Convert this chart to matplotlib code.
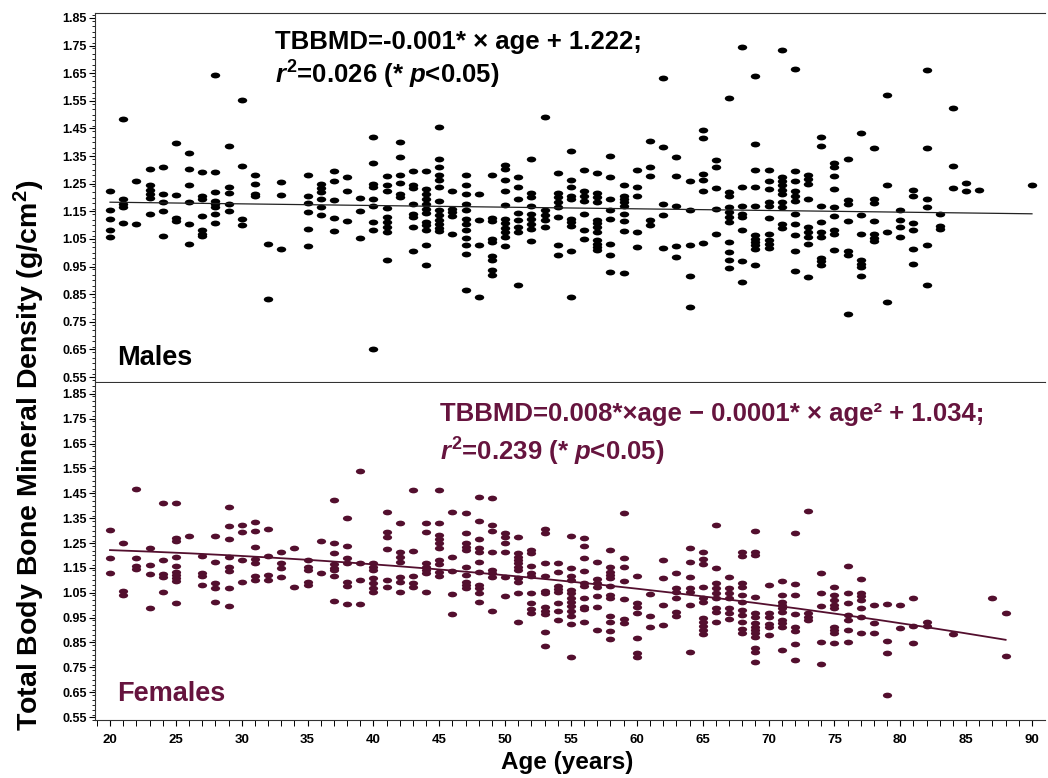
import matplotlib
matplotlib.use("Agg")
import matplotlib.pyplot as plt
from matplotlib.path import Path
from matplotlib.transforms import Affine2D
from matplotlib.ticker import MultipleLocator
import numpy as np

plt.rcParams['font.family'] = ['Liberation Sans', 'DejaVu Sans']
plt.rcParams['mathtext.fontset'] = 'custom'
plt.rcParams['mathtext.rm'] = 'Liberation Sans:bold'
plt.rcParams['mathtext.bf'] = 'Liberation Sans:bold'
plt.rcParams['mathtext.it'] = 'Liberation Sans:bold:italic'

# ---------------- data ----------------
male_ages = [20, 21, 22, 23, 24, 25, 26, 27, 28, 29, 30, 31, 32, 33, 35, 36, 37, 38, 39,
             40, 41, 42, 43, 44, 45, 46, 47, 48, 49, 50, 51, 52, 53, 54, 55, 56, 57, 58,
             59, 60, 61, 62, 63, 64, 65, 66, 67, 68, 69, 70, 71, 72, 73, 74, 75, 76, 77,
             78, 79, 80, 81, 82, 83, 84, 85, 86, 90]
male_bmd = [
    [1.225, 1.153, 1.121, 1.081, 1.057],
    [1.484, 1.195, 1.177, 1.165, 1.109],
    [1.259, 1.105],
    [1.304, 1.244, 1.228, 1.213, 1.198, 1.141],
    [1.310, 1.211, 1.183, 1.152, 1.059],
    [1.398, 1.209, 1.127, 1.115],
    [1.360, 1.303, 1.246, 1.183, 1.105, 1.030],
    [1.292, 1.207, 1.195, 1.134, 1.083, 1.069, 1.059],
    [1.643, 1.292, 1.220, 1.189, 1.177, 1.165, 1.141, 1.109],
    [1.388, 1.238, 1.216, 1.177, 1.150],
    [1.553, 1.315, 1.123, 1.099],
    [1.283, 1.250, 1.213, 1.204],
    [1.030, 0.834],
    [1.256, 1.210, 1.015],
    [1.283, 1.207, 1.181, 1.147, 1.087, 1.026],
    [1.250, 1.235, 1.221, 1.193, 1.165, 1.135],
    [1.295, 1.258, 1.192, 1.126, 1.079],
    [1.274, 1.223, 1.115],
    [1.198, 1.150, 1.053],
    [1.420, 1.324, 1.250, 1.238, 1.195, 1.168, 1.111, 1.083, 0.650],
    [1.277, 1.246, 1.225, 1.162, 1.129, 1.111, 1.093, 1.075, 0.973],
    [1.402, 1.348, 1.283, 1.252, 1.213, 1.201],
    [1.295, 1.247, 1.235, 1.177, 1.141, 1.129, 1.093, 1.006],
    [1.295, 1.232, 1.213, 1.195, 1.177, 1.159, 1.144, 1.111, 1.099, 1.081, 1.027, 0.957],
    [1.454, 1.340, 1.310, 1.280, 1.262, 1.238, 1.189, 1.153, 1.135, 1.120, 1.105, 1.091, 1.077],
    [1.225, 1.159, 1.147, 1.132, 1.069],
    [1.283, 1.244, 1.213, 1.177, 1.153, 1.121, 1.105, 1.081, 1.055, 1.027, 0.997, 0.865],
    [1.213, 1.120, 1.027, 0.840],
    [1.280, 1.127, 1.115, 1.051, 1.039, 0.987, 0.973, 0.937, 0.921],
    [1.316, 1.304, 1.264, 1.225, 1.174, 1.123, 1.108, 1.091, 1.075, 1.057, 1.023],
    [1.274, 1.238, 1.195, 1.144, 1.117, 1.093, 1.075, 0.883],
    [1.340, 1.216, 1.201, 1.171, 1.141, 1.123, 1.105, 1.087, 1.043],
    [1.493, 1.153, 1.135, 1.117, 1.093],
    [1.289, 1.217, 1.201, 1.183, 1.165, 1.129, 1.027, 0.991],
    [1.367, 1.262, 1.238, 1.207, 1.195, 1.123, 1.111, 1.096, 1.006, 0.840],
    [1.300, 1.225, 1.207, 1.189, 1.141, 1.083, 1.051],
    [1.288, 1.216, 1.201, 1.183, 1.120, 1.108, 1.093, 1.075, 1.047, 1.033, 1.021, 1.009],
    [1.349, 1.276, 1.195, 1.153, 1.123, 1.033, 0.991, 0.931],
    [1.247, 1.207, 1.195, 1.183, 1.171, 1.141, 1.115, 1.079, 0.928],
    [1.300, 1.238, 1.205, 1.074, 1.021],
    [1.406, 1.310, 1.277, 1.117, 1.099],
    [1.631, 1.382, 1.175, 1.138, 1.018],
    [1.348, 1.277, 1.171, 1.023, 0.985],
    [1.259, 1.153, 1.027, 0.915, 0.802],
    [1.444, 1.414, 1.286, 1.264, 1.225, 1.035],
    [1.334, 1.310, 1.235, 1.159, 1.069],
    [1.560, 1.219, 1.207, 1.165, 1.147, 1.129, 1.111, 1.039, 1.003, 0.975, 0.943],
    [1.745, 1.238, 1.171, 1.139, 1.129, 1.083, 0.970, 0.895],
    [1.641, 1.394, 1.300, 1.238, 1.168, 1.063, 1.051, 1.039, 1.027, 1.015, 0.955],
    [1.300, 1.259, 1.232, 1.183, 1.168, 1.127, 1.069, 1.047, 1.033, 1.018],
    [1.733, 1.274, 1.259, 1.244, 1.228, 1.213, 1.183, 1.165, 1.105, 1.091],
    [1.665, 1.295, 1.259, 1.225, 1.207, 1.189, 1.139, 1.105, 1.063, 1.006, 0.933],
    [1.283, 1.268, 1.250, 1.195, 1.093, 1.075, 1.057, 1.033, 0.913],
    [1.420, 1.388, 1.169, 1.111, 1.075, 1.057, 0.982, 0.969, 0.957],
    [1.325, 1.310, 1.277, 1.232, 1.165, 1.133, 1.081, 1.067, 1.009],
    [1.341, 1.192, 1.175, 1.115, 1.006, 0.991, 0.778],
    [1.432, 1.138, 1.069, 0.973, 0.961, 0.949, 0.916],
    [1.379, 1.195, 1.180, 1.115, 1.067, 1.055, 1.043],
    [1.571, 1.246, 1.076, 0.822],
    [1.153, 1.117, 1.093, 1.057],
    [1.228, 1.207, 1.109, 1.081, 1.015, 0.961],
    [1.661, 1.379, 1.195, 1.165, 1.029, 0.885],
    [1.141, 1.096, 1.085],
    [1.523, 1.313, 1.235],
    [1.252, 1.222],
    [1.228],
    [1.247],
]

female_ages = [20, 21, 22, 23, 24, 25, 26, 27, 28, 29, 30, 31, 32, 33, 34, 35, 36, 37, 38,
               39, 40, 41, 42, 43, 44, 45, 46, 47, 48, 49, 50, 51, 52, 53, 54, 55, 56, 57,
               58, 59, 60, 61, 62, 63, 64, 65, 66, 67, 68, 69, 70, 71, 72, 73, 74, 75, 76,
               77, 78, 79, 80, 81, 82, 84, 87, 88]
female_bmd = [
    [1.303, 1.191, 1.131],
    [1.249, 1.059, 1.041],
    [1.466, 1.191, 1.159, 1.144],
    [1.232, 1.162, 1.126, 0.988],
    [1.410, 1.182, 1.124, 1.115, 1.055],
    [1.413, 1.269, 1.260, 1.195, 1.159, 1.135, 1.122, 1.108, 1.099, 1.008],
    [1.280],
    [1.198, 1.131, 1.118, 1.081],
    [1.279, 1.175, 1.088, 1.068, 1.014],
    [1.397, 1.319, 1.267, 1.193, 1.155, 1.138, 1.071, 0.998],
    [1.323, 1.296, 1.182, 1.095],
    [1.336, 1.299, 1.234, 1.185, 1.171, 1.119, 1.102],
    [1.307, 1.198, 1.122, 1.102],
    [1.216, 1.171, 1.148, 1.112],
    [1.232, 1.075],
    [1.182, 1.155, 1.142, 1.095, 1.081],
    [1.258, 1.131],
    [1.423, 1.252, 1.211, 1.166, 1.148, 1.142, 1.118, 1.017],
    [1.350, 1.238, 1.189, 1.171, 1.095, 1.079, 1.005],
    [1.541, 1.171, 1.102, 1.005],
    [1.169, 1.155, 1.142, 1.108, 1.088, 1.071, 1.055],
    [1.376, 1.293, 1.276, 1.225, 1.102, 1.075],
    [1.330, 1.216, 1.195, 1.175, 1.112, 1.095, 1.052],
    [1.464, 1.220, 1.118, 1.088, 1.075],
    [1.332, 1.293, 1.169, 1.155, 1.142, 1.128, 1.052],
    [1.464, 1.330, 1.283, 1.265, 1.249, 1.229, 1.182, 1.166, 1.135, 1.119],
    [1.376, 1.195, 1.138, 1.045, 0.965],
    [1.372, 1.289, 1.249, 1.236, 1.222, 1.155, 1.122, 1.095, 1.081, 1.071],
    [1.437, 1.340, 1.265, 1.229, 1.212, 1.175, 1.135, 1.081, 1.068, 1.051, 1.012],
    [1.430, 1.323, 1.299, 1.212, 1.142, 1.128, 1.115, 0.978],
    [1.292, 1.276, 1.252, 1.212, 1.115, 1.038],
    [1.276, 1.209, 1.195, 1.182, 1.169, 1.155, 1.142, 1.108, 1.095, 1.051, 0.933],
    [1.222, 1.209, 1.158, 1.131, 1.119, 1.051, 1.010, 0.983, 0.970],
    [1.305, 1.289, 1.171, 1.119, 1.059, 1.051, 0.992, 0.978, 0.963, 0.891, 0.837],
    [1.169, 1.132, 1.079, 1.065, 1.052, 1.010, 0.978, 0.940],
    [1.279, 1.151, 1.118, 1.102, 1.061, 1.048, 1.030, 1.014, 0.997, 0.978, 0.957, 0.925, 0.793],
    [1.269, 1.238, 1.191, 1.139, 1.088, 1.079, 1.028, 0.994, 0.983, 0.934],
    [1.173, 1.104, 1.088, 1.075, 1.037, 0.992, 0.900],
    [1.222, 1.155, 1.135, 1.122, 1.108, 1.077, 1.041, 1.028, 0.957, 0.934, 0.898, 0.863],
    [1.372, 1.191, 1.155, 1.098, 1.024, 0.943, 0.927],
    [1.118, 1.010, 0.992, 0.967, 0.867, 0.806, 0.790],
    [1.045, 0.957, 0.914],
    [1.182, 1.108, 1.000, 0.920],
    [1.128, 1.068, 1.055, 1.028, 0.974, 0.958],
    [1.229, 1.175, 1.115, 1.068, 1.055, 1.001, 0.813],
    [1.216, 1.185, 1.166, 1.072, 1.028, 1.014, 0.947, 0.934, 0.916, 0.900, 0.884],
    [1.323, 1.148, 1.088, 1.068, 1.048, 1.028, 0.988, 0.974, 0.934],
    [1.115, 1.068, 1.048, 1.028, 0.988, 0.970, 0.945],
    [1.212, 1.198, 1.088, 1.075, 1.041, 1.014, 0.981, 0.961, 0.934, 0.903, 0.887],
    [1.299, 1.212, 1.202, 1.032, 0.967, 0.954, 0.927, 0.914, 0.900, 0.887, 0.873, 0.827, 0.813, 0.773],
    [1.081, 0.970, 0.954, 0.925, 0.911, 0.880],
    [1.098, 1.041, 1.014, 1.001, 0.988, 0.974, 0.940, 0.927, 0.914, 0.820],
    [1.292, 1.085, 1.041, 0.965, 0.914, 0.898, 0.844, 0.780],
    [1.380, 0.967, 0.954, 0.940],
    [1.131, 1.048, 0.997, 0.853, 0.764],
    [1.075, 1.041, 1.021, 1.001, 0.988, 0.914, 0.900, 0.887, 0.849],
    [1.158, 1.048, 1.010, 0.961, 0.940, 0.900, 0.853],
    [1.104, 1.051, 1.037, 1.021, 0.988, 0.954, 0.890],
    [1.001, 0.927, 0.887],
    [1.005, 0.856, 0.809, 0.639],
    [1.001, 0.910],
    [1.028, 0.916, 0.849],
    [0.934, 0.916],
    [0.884],
    [1.030],
    [0.967, 0.796],
]

# fitted lines as drawn (intercept, linear, quadratic) and age range
male_fit = [1.195, -0.0006, 0.0]
male_fit_range = [20, 90]
female_fit = [1.238, 0.0002, -0.000051]
female_fit_range = [20, 88]

y_ticks = [0.55, 0.65, 0.75, 0.85, 0.95, 1.05, 1.15, 1.25, 1.35, 1.45, 1.55, 1.65, 1.75, 1.85]
x_ticks = [20, 25, 30, 35, 40, 45, 50, 55, 60, 65, 70, 75, 80, 85, 90]

MALE_C = '#000000'
FEM_C = '#530f2e'
FEM_TXT = '#66143e'

# ---------------- figure ----------------
W, H = 1048, 778
fig = plt.figure(figsize=(W / 100, H / 100), dpi=100)

def px_ax(x0, y0, x1, y1):
    return fig.add_axes([x0 / W, 1 - y1 / H, (x1 - x0) / W, (y1 - y0) / H])

ax_m = px_ax(95, 13, 1045, 382)
ax_f = px_ax(95, 383, 1045, 720)

ell = Path.unit_circle().transformed(Affine2D().scale(1.0, 0.62))

def flat(ages, vals):
    xs, ys = [], []
    for a, v in zip(ages, vals):
        xs.extend([a] * len(v))
        ys.extend(v)
    return np.array(xs), np.array(ys)

def fit_curve(coef, rng):
    xx = np.linspace(rng[0], rng[1], 200)
    return xx, coef[0] + coef[1] * xx + coef[2] * xx ** 2

xm, ym = flat(male_ages, male_bmd)
xf, yf = flat(female_ages, female_bmd)

ax_m.scatter(xm, ym, marker=ell, s=46, color=MALE_C, linewidths=0, zorder=3)
lx, ly = fit_curve(male_fit, male_fit_range)
ax_m.plot(lx, ly, color='#222222', lw=0.9, zorder=4)

ax_f.scatter(xf, yf, marker=ell, s=44, color=FEM_C, linewidths=0, zorder=3)
lx, ly = fit_curve(female_fit, female_fit_range)
ax_f.plot(lx, ly, color=FEM_C, lw=1.3, zorder=4)

for ax, ylim in ((ax_m, (0.532, 1.868)), (ax_f, (0.538, 1.894))):
    ax.set_xlim(18.86, 90.99)
    ax.set_ylim(*ylim)
    ax.set_yticks(y_ticks)
    ax.set_yticklabels([f"{v:.2f}" for v in y_ticks])
    ax.yaxis.set_minor_locator(MultipleLocator(0.02))
    ax.tick_params(axis='y', which='major', length=4, width=0.8, pad=2,
                   labelsize=9, direction='out')
    ax.tick_params(axis='y', which='minor', length=2, width=0.6, direction='out')
    for lab in ax.get_yticklabels():
        lab.set_fontweight('bold')
    ax.spines['right'].set_visible(False)
    for side in ('left', 'top', 'bottom'):
        ax.spines[side].set_linewidth(0.8)
        ax.spines[side].set_color('#333333')

ax_m.set_xticks([])
ax_f.spines['top'].set_visible(False)
ax_f.set_xticks(x_ticks)
ax_f.set_xticklabels([str(v) for v in x_ticks])
ax_f.xaxis.set_minor_locator(MultipleLocator(1))
ax_f.tick_params(axis='x', which='major', length=4, width=0.8, pad=6, labelsize=9.5)
ax_f.tick_params(axis='x', which='minor', length=4, width=0.7)
for lab in ax_f.get_xticklabels():
    lab.set_fontweight('bold')

# annotations
EQ_FS = 18.5
fig.text(275 / W, 1 - 42 / H, "TBBMD=-0.001* \u00d7 age + 1.222;", fontsize=EQ_FS,
         fontweight='bold', ha='left', va='center', color='black')
fig.text(275 / W, 1 - 75 / H, r"$r^2$=0.026 (* $p$<0.05)", fontsize=EQ_FS,
         fontweight='bold', ha='left', va='center', color='black')
fig.text(440 / W, 1 - 414 / H, "TBBMD=0.008*\u00d7age \u2212 0.0001* \u00d7 age\u00b2 + 1.034;",
         fontsize=EQ_FS, fontweight='bold', ha='left', va='center', color=FEM_TXT)
fig.text(440 / W, 1 - 452 / H, r"$r^2$=0.239 (* $p$<0.05)", fontsize=EQ_FS,
         fontweight='bold', ha='left', va='center', color=FEM_TXT)

fig.text(117 / W, 1 - 358 / H, "Males", fontsize=19.5, fontweight='bold',
         ha='left', va='center', color='black')
fig.text(117 / W, 1 - 694 / H, "Females", fontsize=19.5, fontweight='bold',
         ha='left', va='center', color=FEM_TXT)

fig.text(29 / W, 1 - 455 / H, "Total Body Bone Mineral Density (g/cm$^2$)", fontsize=20.5,
         fontweight='bold', rotation=90, ha='center', va='center')
fig.text(567 / W, 1 - 763 / H, "Age (years)", fontsize=17.5, fontweight='bold',
         ha='center', va='center')

fig.savefig("out.png", dpi=100)
